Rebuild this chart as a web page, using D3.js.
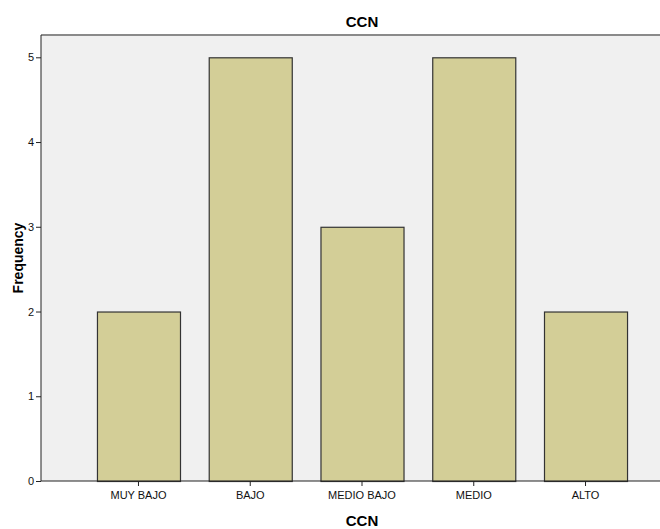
<!DOCTYPE html>
<html><head><meta charset="utf-8">
<script src="https://cdn.jsdelivr.net/npm/d3@7"></script>
<style>body{margin:0;background:#fff}svg{display:block}</style>
</head><body>
<svg id="c" width="660" height="529"></svg>
<script>
const categories = ["MUY BAJO","BAJO","MEDIO BAJO","MEDIO","ALTO"];
const frequencies = [2,5,3,5,2];
const yTicks = [0,1,2,3,4,5];
const title = "CCN", xTitle = "CCN", yTitle = "Frequency";

const svg = d3.select("#c");
const L = 41, T = 35, B = 481;
const x = d3.scaleBand().domain(categories).range([82.6, 641.4]).paddingInner(0.257).paddingOuter(0.1285);
const y = d3.scaleLinear().domain([0, 5]).range([B, 57.3]);

svg.append("rect").attr("x", L).attr("y", T).attr("width", 660 - L).attr("height", B - T).attr("fill", "#f0f0f0");
svg.append("line").attr("x1", L).attr("x2", 660).attr("y1", T).attr("y2", T).attr("stroke", "#8a8a8a").attr("stroke-width", 2);

svg.selectAll("rect.bar").data(frequencies).join("rect").attr("class","bar")
  .attr("x", (d,i) => x(categories[i]) + 0.5)
  .attr("y", d => y(d) + 0.5)
  .attr("width", x.bandwidth())
  .attr("height", d => B - y(d))
  .attr("fill", "#d3ce97").attr("stroke", "#333").attr("stroke-width", 1.2);

const ya = svg.append("g").attr("transform", `translate(${L},0)`)
  .call(d3.axisLeft(y).tickValues(yTicks).tickFormat(d3.format("d")).tickSize(5).tickPadding(2));
const xa = svg.append("g").attr("transform", `translate(0,${B})`)
  .call(d3.axisBottom(x).tickSize(5).tickPadding(5).tickSizeOuter(0));
[ya, xa].forEach(g => {
  g.selectAll("path,line").attr("stroke", "#222");
  g.selectAll("text").attr("font-family", "Liberation Sans, Arial, sans-serif").attr("font-size", 11).attr("fill", "#111");
});
ya.select(".domain").attr("d", `M0,${T}V${B}`);
xa.select(".domain").attr("d", `M${L},0H660`);

svg.append("text").attr("x", 362).attr("y", 27).attr("text-anchor", "middle")
  .attr("font-family", "Liberation Sans, Arial, sans-serif").attr("font-weight", "bold").attr("font-size", 15).text(title);
svg.append("text").attr("x", 362).attr("y", 526).attr("text-anchor", "middle")
  .attr("font-family", "Liberation Sans, Arial, sans-serif").attr("font-weight", "bold").attr("font-size", 15).text(xTitle);
svg.append("text").attr("transform", "translate(23,258) rotate(-90)").attr("text-anchor", "middle")
  .attr("font-family", "Liberation Sans, Arial, sans-serif").attr("font-weight", "bold").attr("font-size", 14).text(yTitle);
</script>
</body></html>
